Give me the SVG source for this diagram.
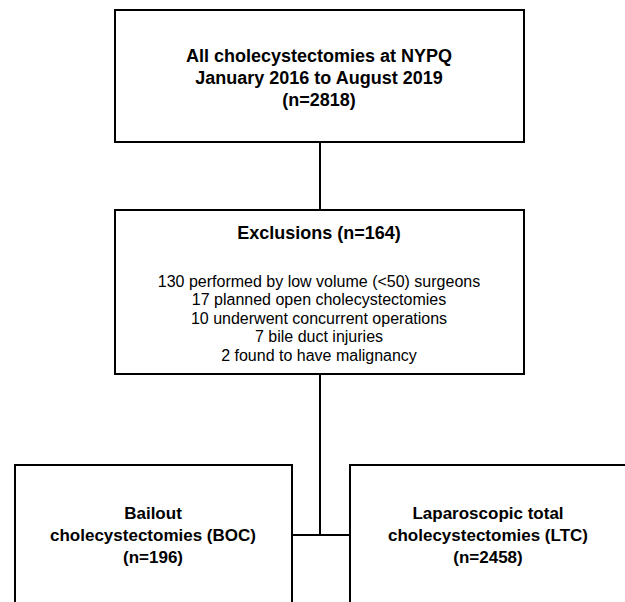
<svg xmlns="http://www.w3.org/2000/svg" width="625" height="602" viewBox="0 0 625 602">
<style>
.box{fill:#fff;stroke:#000;stroke-width:2}
.ln{stroke:#000;stroke-width:2;fill:none}
.b{font-family:"Liberation Sans",Arial,sans-serif;font-weight:bold;font-size:18px;fill:#000;text-anchor:middle}
.bs{font-family:"Liberation Sans",Arial,sans-serif;font-weight:bold;font-size:17px;fill:#000;text-anchor:middle}
.r{font-family:"Liberation Sans",Arial,sans-serif;font-size:16px;fill:#000;text-anchor:middle}
</style>
<rect width="625" height="602" fill="#fff"/>
<g id="connectors">
<line class="ln" x1="320" y1="142" x2="320" y2="210"/>
<line class="ln" x1="320" y1="374" x2="320" y2="535"/>
<line class="ln" x1="292" y1="535" x2="350" y2="535"/>
</g>
<g id="all">
<rect class="box" x="115" y="10" width="409" height="132"/>
<text class="b" x="319" y="62">All cholecystectomies at NYPQ</text>
<text class="b" x="319" y="84">January 2016 to August 2019</text>
<text class="b" x="319" y="106">(n=2818)</text>
</g>
<g id="exclusions">
<rect class="box" x="115" y="210" width="409" height="164"/>
<text class="b" x="319" y="239">Exclusions (n=164)</text>
<text class="r" x="319" y="287">130 performed by low volume (&lt;50) surgeons</text>
<text class="r" x="319" y="305">17 planned open cholecystectomies</text>
<text class="r" x="319" y="324">10 underwent concurrent operations</text>
<text class="r" x="319" y="342">7 bile duct injuries</text>
<text class="r" x="319" y="361">2 found to have malignancy</text>
</g>
<g id="boc">
<rect class="box" x="15" y="465" width="277" height="150"/>
<text class="bs" x="153" y="519">Bailout</text>
<text class="bs" x="153" y="541">cholecystectomies (BOC)</text>
<text class="bs" x="153" y="563">(n=196)</text>
</g>
<g id="ltc">
<rect class="box" x="350" y="465" width="277" height="150"/>
<text class="bs" x="488" y="519">Laparoscopic total</text>
<text class="bs" x="488" y="541">cholecystectomies (LTC)</text>
<text class="bs" x="488" y="563">(n=2458)</text>
</g>
</svg>
